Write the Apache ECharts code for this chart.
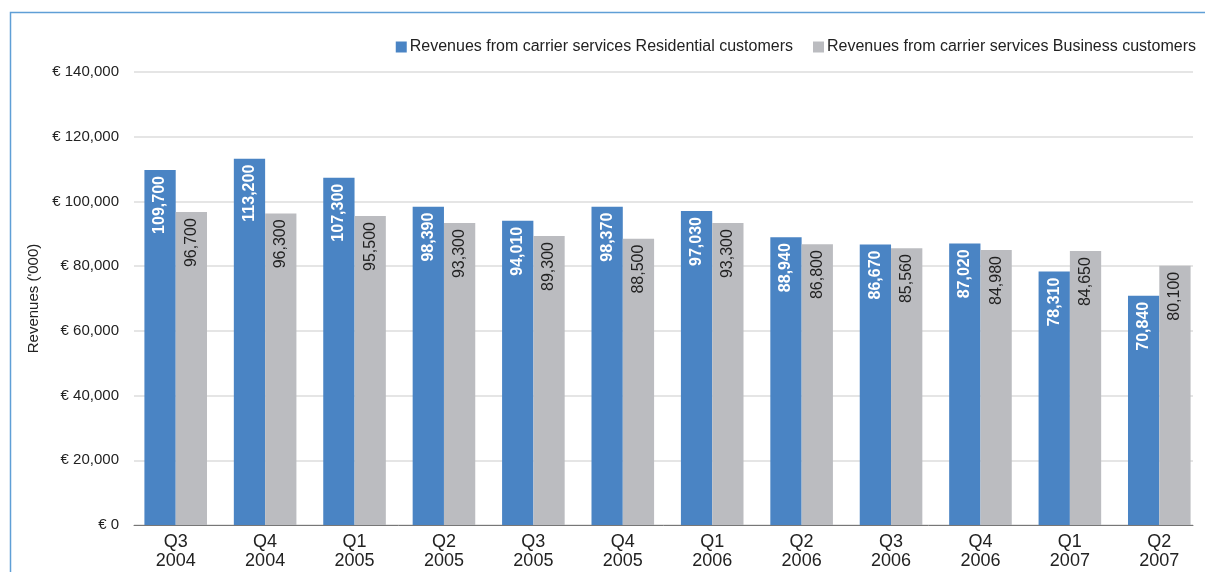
<!DOCTYPE html>
<html>
<head>
<meta charset="utf-8">
<script src="https://cdn.jsdelivr.net/npm/echarts@6/dist/echarts.min.js"></script>
<style>
  html, body { margin: 0; padding: 0; background: #fff; }
  #chart { width: 1205px; height: 572px; }
</style>
</head>
<body>
<div id="chart"></div>
<script>
// Quarterly carrier-service revenues (€ '000)
const quarters = ['Q3\n2004', 'Q4\n2004', 'Q1\n2005', 'Q2\n2005', 'Q3\n2005', 'Q4\n2005',
                  'Q1\n2006', 'Q2\n2006', 'Q3\n2006', 'Q4\n2006', 'Q1\n2007', 'Q2\n2007'];
const residential = [109700, 113200, 107300, 98390, 94010, 98370, 97030, 88940, 86670, 87020, 78310, 70840];
const business = [96700, 96300, 95500, 93300, 89300, 88500, 93300, 86800, 85560, 84980, 84650, 80100];
const seriesNames = ['Revenues from carrier services Residential customers',
                     'Revenues from carrier services Business customers'];

const FONT = '"Liberation Sans", Arial, Helvetica, sans-serif';
const fmt = v => v.toLocaleString('en-US');
const Y_MAX = 140000, Y_STEP = 20000;

const barLabel = (color, weight) => ({
  show: true,
  position: 'insideTop',
  rotate: 90,
  align: 'right',
  verticalAlign: 'middle',
  distance: 6,
  color: color,
  fontWeight: weight,
  fontSize: 16,
  fontFamily: FONT,
  formatter: p => fmt(p.value)
});

const chart = echarts.init(document.getElementById('chart'));
chart.setOption({
  animation: false,
  textStyle: { fontFamily: FONT },
  graphic: [{
    type: 'polyline',
    shape: { points: [[10.5, 580], [10.5, 12.5], [1210, 12.5]] },
    style: { stroke: '#5f9fd6', lineWidth: 1.5, fill: null }
  }],
  legend: {
    right: 4,
    top: 34,
    itemWidth: 11,
    itemHeight: 11,
    itemGap: 20,
    icon: 'rect',
    textStyle: { fontSize: 16, color: '#222', fontFamily: FONT, padding: [0, 0, 0, -2] },
    data: seriesNames
  },
  // grid 0: value axis, gridlines and baseline; grid 1: the bars and quarter labels
  grid: [
    { left: 134, right: 12, top: 72, bottom: 47 },
    { left: 131, right: 1, top: 72, bottom: 47 }
  ],
  xAxis: [
    {
      type: 'category',
      gridIndex: 0,
      data: quarters,
      axisTick: { show: false },
      axisLabel: { show: false },
      axisLine: { lineStyle: { color: '#777', width: 1 } }
    },
    {
      type: 'category',
      gridIndex: 1,
      data: quarters,
      axisTick: { show: false },
      axisLine: { show: false },
      axisLabel: { fontSize: 18, color: '#222', lineHeight: 19, margin: 8, fontFamily: FONT }
    }
  ],
  yAxis: [
    {
      type: 'value',
      gridIndex: 0,
      min: 0,
      max: Y_MAX,
      interval: Y_STEP,
      name: "Revenues ('000)",
      nameLocation: 'middle',
      nameGap: 93,
      nameTextStyle: { fontSize: 15, color: '#222', fontFamily: FONT },
      axisLine: { show: false },
      axisTick: { show: false },
      splitLine: { lineStyle: { color: '#dcdcdc', width: 1.5 } },
      axisLabel: {
        fontSize: 15, color: '#222', margin: 15, fontFamily: FONT,
        formatter: v => '€ ' + fmt(v)
      }
    },
    {
      type: 'value',
      gridIndex: 1,
      min: 0,
      max: Y_MAX,
      interval: Y_STEP,
      show: false,
      splitLine: { show: false }
    }
  ],
  series: [
    {
      name: seriesNames[0],
      type: 'bar',
      xAxisIndex: 1,
      yAxisIndex: 1,
      data: residential,
      barGap: '0%',
      barCategoryGap: '30%',
      itemStyle: { color: '#4a84c4' },
      label: barLabel('#fff', 'bold')
    },
    {
      name: seriesNames[1],
      type: 'bar',
      xAxisIndex: 1,
      yAxisIndex: 1,
      data: business,
      itemStyle: { color: '#bbbcc0' },
      label: barLabel('#222', 'normal')
    }
  ]
});
</script>
</body>
</html>
